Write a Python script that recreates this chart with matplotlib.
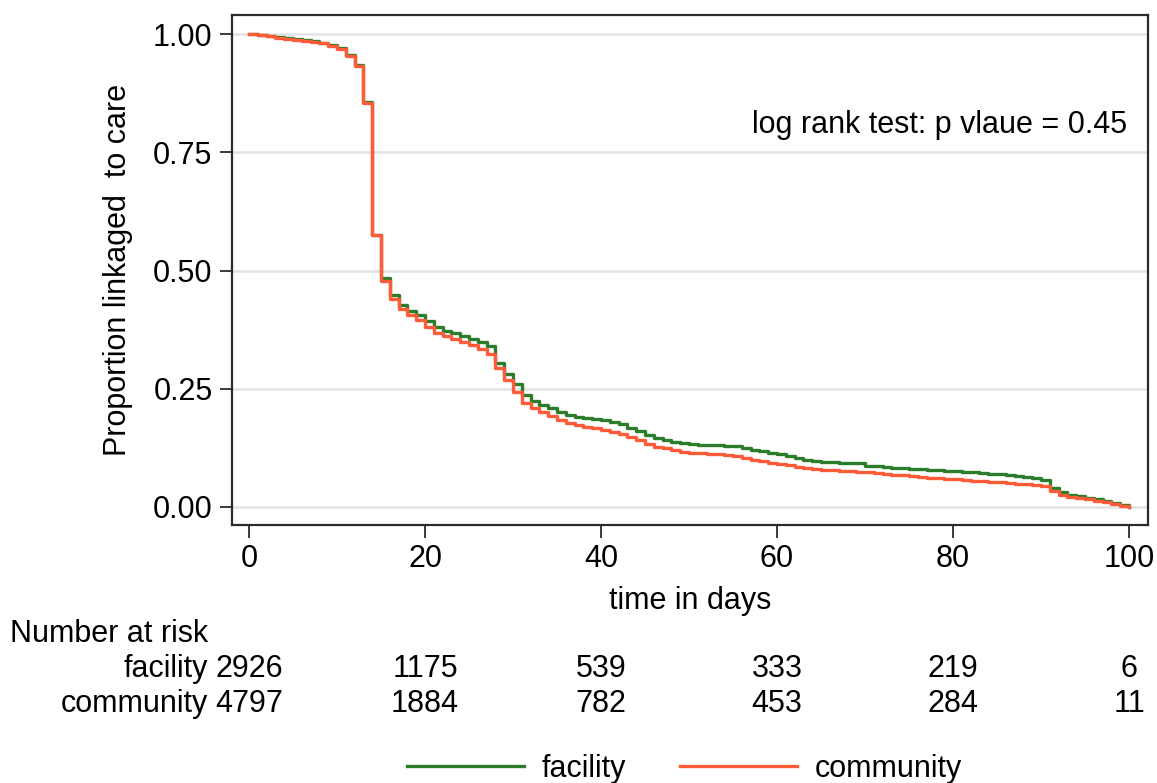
import matplotlib
matplotlib.use("Agg")
import matplotlib.pyplot as plt
import matplotlib.transforms as mtransforms
from matplotlib.lines import Line2D
import numpy as np

plt.rcParams["font.family"] = ["Liberation Sans", "DejaVu Sans"]

### Data (survivor value held from each day) ###
days = list(range(0, 101))

facility = [
    1.000, 0.998, 0.996, 0.993, 0.991, 0.989, 0.987, 0.985, 0.982, 0.977,
    0.970, 0.955, 0.935, 0.857, 0.575, 0.485, 0.448, 0.427, 0.415, 0.405,
    0.393, 0.380, 0.373, 0.368, 0.362, 0.356, 0.349, 0.341, 0.304, 0.281,
    0.259, 0.236, 0.224, 0.216, 0.209, 0.201, 0.194, 0.191, 0.188, 0.185,
    0.183, 0.179, 0.175, 0.167, 0.160, 0.152, 0.146, 0.142, 0.138, 0.135,
    0.133, 0.132, 0.131, 0.131, 0.130, 0.129, 0.124, 0.121, 0.118, 0.114,
    0.111, 0.107, 0.103, 0.099, 0.097, 0.096, 0.095, 0.094, 0.093, 0.092,
    0.087, 0.086, 0.085, 0.083, 0.082, 0.081, 0.080, 0.079, 0.078, 0.077,
    0.076, 0.075, 0.074, 0.072, 0.070, 0.069, 0.068, 0.066, 0.064, 0.062,
    0.058, 0.040, 0.032, 0.026, 0.023, 0.020, 0.016, 0.012, 0.008, 0.004,
    0.000,
]

community = [
    1.000, 0.998, 0.996, 0.992, 0.990, 0.988, 0.985, 0.983, 0.980, 0.975,
    0.968, 0.953, 0.933, 0.855, 0.575, 0.478, 0.440, 0.418, 0.405, 0.395,
    0.381, 0.367, 0.361, 0.355, 0.348, 0.342, 0.333, 0.324, 0.293, 0.268,
    0.244, 0.219, 0.209, 0.200, 0.192, 0.184, 0.177, 0.173, 0.170, 0.166,
    0.163, 0.159, 0.155, 0.148, 0.141, 0.133, 0.127, 0.124, 0.120, 0.117,
    0.115, 0.114, 0.113, 0.112, 0.110, 0.108, 0.103, 0.100, 0.097, 0.093,
    0.091, 0.088, 0.085, 0.082, 0.080, 0.079, 0.078, 0.077, 0.076, 0.075,
    0.073, 0.072, 0.070, 0.068, 0.067, 0.065, 0.064, 0.062, 0.061, 0.060,
    0.059, 0.058, 0.056, 0.054, 0.053, 0.052, 0.050, 0.049, 0.048, 0.047,
    0.045, 0.033, 0.026, 0.022, 0.019, 0.016, 0.013, 0.010, 0.006, 0.003,
    0.000,
]

risk_times = [0, 20, 40, 60, 80, 100]
risk_facility = [2926, 1175, 539, 333, 219, 6]
risk_community = [4797, 1884, 782, 453, 284, 11]

y_ticks = [0.0, 0.25, 0.5, 0.75, 1.0]
y_ticklabels = ["0.00", "0.25", "0.50", "0.75", "1.00"]
x_ticks = [0, 20, 40, 60, 80, 100]

green = "#2b7d2b"
orange = "#ff5b38"
fs = 22

### Plot ###
W, H = 1157, 783
fig = plt.figure(figsize=(W / 100, H / 100), dpi=100)
ax = fig.add_axes([232 / W, 1 - 525 / H, 916 / W, 510 / H])

ax.step(days, facility, where="post", color=green, lw=2.4, zorder=3)
ax.step(days, community, where="post", color=orange, lw=2.4, zorder=4)

ax.set_xlim((232 - 249) / 8.8, (1148 - 249) / 8.8)
ax.set_ylim((507 - 525) / 473, (507 - 15) / 473)

ax.set_yticks(y_ticks)
ax.set_yticklabels(y_ticklabels)
ax.set_xticks(x_ticks)
ax.yaxis.grid(True, color="#e3e3e3", lw=1.8, zorder=0)
ax.set_axisbelow(True)
for s in ax.spines.values():
    s.set_color("#2b2b2b")
    s.set_linewidth(1.6)
ax.tick_params(axis="both", labelsize=fs, length=9, width=1.3, color="#2b2b2b", pad=5)

ax.set_xlabel("time in days", fontsize=fs, labelpad=8)
ax.set_ylabel("Proportion linkaged  to care", fontsize=fs, labelpad=14)

ax.text((752 - 249) / 8.8, (507 - 133) / 473, "log rank test: p vlaue = 0.45",
        fontsize=fs, ha="left", va="baseline")

### Number at risk table ###
trans = mtransforms.blended_transform_factory(ax.transData, fig.transFigure)
fig.text(10 / W, 1 - 642 / H, "Number at risk", fontsize=fs, ha="left", va="baseline")
fig.text(208 / W, 1 - 677 / H, "facility", fontsize=fs, ha="right", va="baseline")
fig.text(208 / W, 1 - 712 / H, "community", fontsize=fs, ha="right", va="baseline")
for t, a, b in zip(risk_times, risk_facility, risk_community):
    ax.text(t, 1 - 677 / H, str(a), transform=trans, fontsize=fs,
            ha="center", va="baseline", clip_on=False)
    ax.text(t, 1 - 712 / H, str(b), transform=trans, fontsize=fs,
            ha="center", va="baseline", clip_on=False)

### Legend ###
ly = 1 - 766 / H
fig.add_artist(Line2D([407 / W, 524 / W], [ly, ly], color=green, lw=2.4,
                      transform=fig.transFigure))
fig.text(542 / W, 1 - 777 / H, "facility", fontsize=fs, ha="left", va="baseline")
fig.add_artist(Line2D([680 / W, 797 / W], [ly, ly], color=orange, lw=2.4,
                      transform=fig.transFigure))
fig.text(815 / W, 1 - 777 / H, "community", fontsize=fs, ha="left", va="baseline")

fig.savefig("out.png", dpi=100, facecolor="white")
